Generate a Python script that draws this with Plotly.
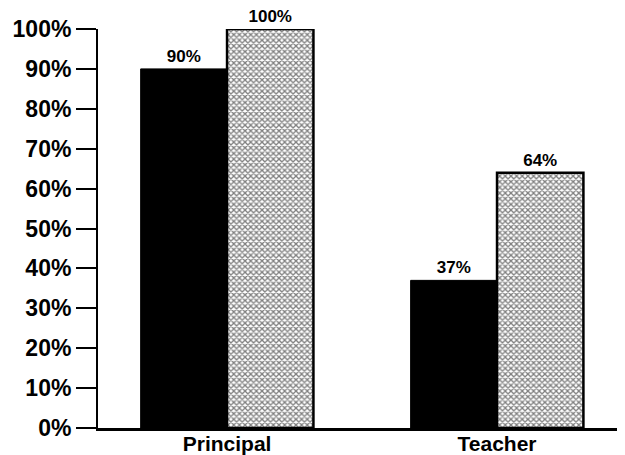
import plotly.graph_objects as go

categories = ["Principal", "Teacher"]
series_a = [90, 37]   # solid black bars
series_b = [100, 64]  # dotted bars
y_ticks = [0, 10, 20, 30, 40, 50, 60, 70, 80, 90, 100]
y_tick_labels = [f"{v}%" for v in y_ticks]

font_family = "Liberation Sans, Arial, Helvetica, sans-serif"

fig = go.Figure()
fig.add_trace(go.Bar(
    x=categories, y=series_a, name="A",
    marker=dict(color="black", line=dict(color="black", width=1)),
    text=[f"{v}%" for v in series_a], textposition="outside",
    textfont=dict(family=font_family, size=17, color="black", weight="bold"),
    cliponaxis=False,
))
fig.add_trace(go.Bar(
    x=categories, y=series_b, name="B",
    marker=dict(color="white", line=dict(color="black", width=2.5),
                pattern=dict(shape="x", size=4, solidity=0.55,
                             fgcolor="black", bgcolor="white", fillmode="overlay")),
    text=[f"{v}%" for v in series_b], textposition="outside",
    textfont=dict(family=font_family, size=17, color="black", weight="bold"),
    cliponaxis=False,
))

fig.update_layout(
    width=625, height=455,
    margin=dict(l=90, r=8, t=21, b=35),
    paper_bgcolor="white", plot_bgcolor="white",
    barmode="group", bargap=0.36, bargroupgap=0,
    showlegend=False,
    font=dict(family=font_family, color="black"),
    xaxis=dict(
        range=[-0.478, 1.474], showline=True, linecolor="black", linewidth=3,
        ticks="", showgrid=False, zeroline=False, automargin=False,
        ticklabelstandoff=-5,
        tickfont=dict(family=font_family, size=21, color="black", weight="bold"),
    ),
    yaxis=dict(
        range=[0, 100], tickvals=y_ticks, ticktext=y_tick_labels,
        showline=True, linecolor="black", linewidth=2, automargin=False,
        ticks="outside", ticklen=20, tickwidth=2, tickcolor="black",
        showgrid=False, zeroline=False,
        tickfont=dict(family=font_family, size=23, color="black", weight="bold"),
    ),
)

fig.write_html("out.html")
